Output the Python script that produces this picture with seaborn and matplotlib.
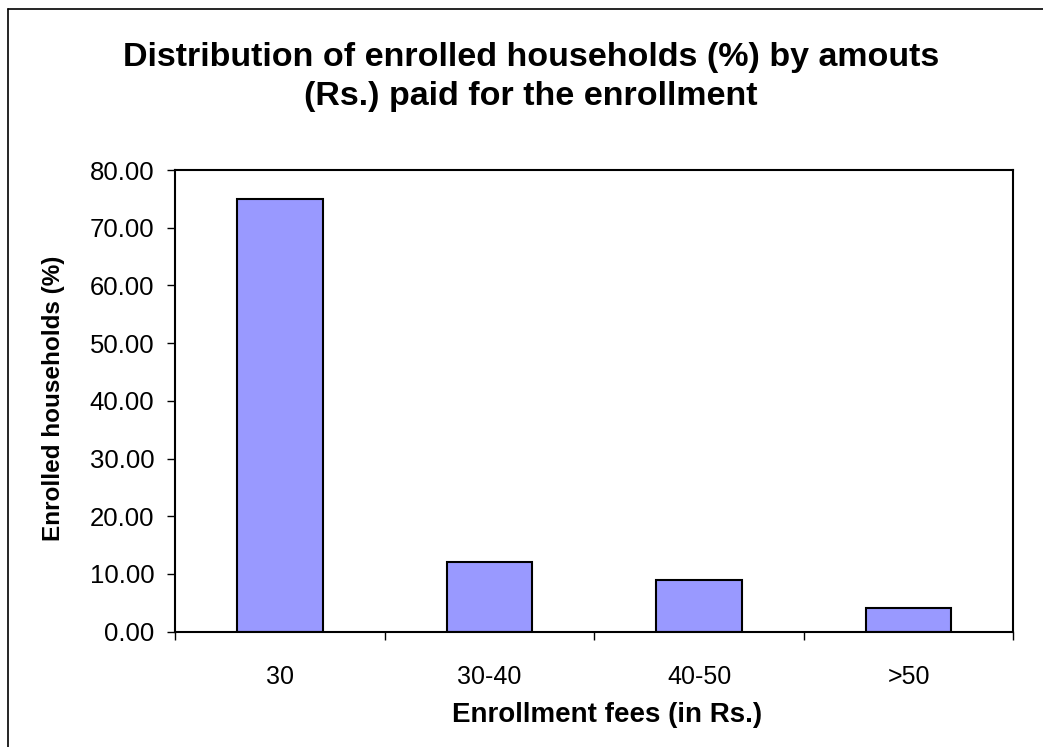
import matplotlib
matplotlib.use("Agg")
import matplotlib.pyplot as plt
import seaborn as sns
import pandas as pd
from matplotlib.lines import Line2D

categories = ["30", "30-40", "40-50", ">50"]
values = [74.9, 12.1, 8.9, 4.1]
yticks = [0, 10, 20, 30, 40, 50, 60, 70, 80]

sns.set_theme(style="white")
plt.rcParams['font.family'] = ['Liberation Sans', 'DejaVu Sans']
plt.rcParams['text.color'] = 'black'
plt.rcParams['axes.labelcolor'] = 'black'
plt.rcParams['xtick.color'] = 'black'
plt.rcParams['ytick.color'] = 'black'

df = pd.DataFrame({"fee": categories, "pct": values})

fig = plt.figure(figsize=(10.43, 7.47), dpi=100)
ax = fig.add_axes([0.168, 0.1544, 0.8035, 0.618])

sns.barplot(data=df, x="fee", y="pct", ax=ax, color="#9999FF", saturation=1,
            width=0.41, edgecolor="black", linewidth=1.5)

ax.set_xlim(-0.5, 3.5)
ax.set_ylim(0, 80)
ax.set_yticks(yticks)
ax.set_yticklabels([f"{v:.2f}" for v in yticks], fontsize=18.5)
ax.set_xticks(range(len(categories)))
ax.set_xticklabels(categories, fontsize=18)
ax.set_xticks([i - 0.5 for i in range(len(categories) + 1)], minor=True)
ax.tick_params(axis="x", which="major", length=0, pad=24)
ax.tick_params(axis="x", which="minor", length=6, width=1, color="black", direction="out", bottom=True)
ax.tick_params(axis="y", which="major", length=6, width=1, color="black", direction="out", left=True, pad=9)

for s in ax.spines.values():
    s.set_visible(True)
    s.set_color("black")
    s.set_linewidth(1.5)

ax.set_xlabel("Enrollment fees (in Rs.)", fontsize=20, fontweight="bold")
ax.xaxis.set_label_coords(0.515, -0.152)
ax.set_ylabel("")
fig.text(0.051, 0.467, "Enrolled households (%)", rotation=90, fontsize=17.5,
         fontweight="bold", ha="center", va="center")

fig.text(0.509, 0.897, "Distribution of enrolled households (%) by amouts\n(Rs.) paid for the enrollment",
         fontsize=24.5, fontweight="bold", ha="center", va="center", linespacing=1.3)

# figure frame (left and top edges)
fig.add_artist(Line2D([8/1043, 8/1043], [0, 1 - 9/747], transform=fig.transFigure, color="black", lw=1.2))
fig.add_artist(Line2D([8/1043, 1], [1 - 9/747, 1 - 9/747], transform=fig.transFigure, color="black", lw=1.2))

fig.savefig("out.png", dpi=100)
